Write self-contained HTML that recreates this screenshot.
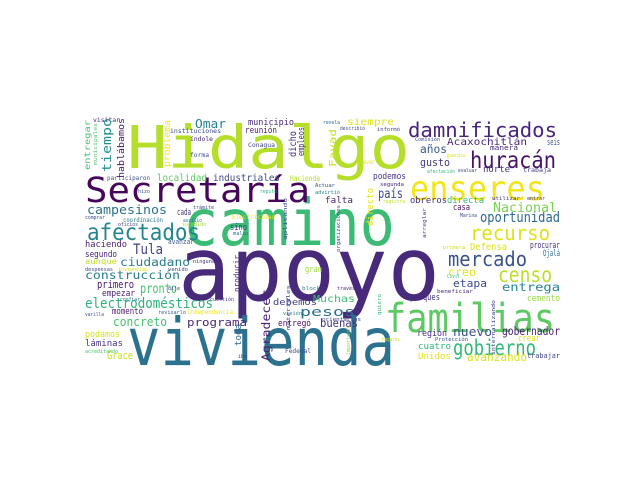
<!DOCTYPE html>
<html><head><meta charset="utf-8"><style>
html,body{margin:0;padding:0;background:#fff;width:640px;height:480px;overflow:hidden}
svg text{font-family:"DejaVu Sans Mono","Liberation Mono",monospace}
</style></head><body>
<svg id="cloud" width="640" height="480" xmlns="http://www.w3.org/2000/svg">
<rect width="640" height="480" fill="#fff"/>
</svg>
<script>
// horizontal words: text, x-start, x-end, baseline-y, font-size, color
const words = [
["apoyo",178,440,300,105,"#472a7a"],
["vivienda",127,395,365,78,"#2c728e"],
["camino",183,395,245,76,"#3bbb75"],
["Hidalgo",127,410,168,70,"#b5de2b"],
["Secretaría",85,310,202,41,"#46075a"],
["enseres",410,545,200,40,"#f1e51d"],
["familias",385,555,332,48,"#5ec962"],
["damnificados",408,557,137,24,"#482576"],
["huracán",470,556,168,28,"#471365"],
["recurso",470,550,240,24,"#dde318"],
["mercado",448,527,266,24,"#3b528b"],
["censo",498,552,282,25,"#bddf26"],
["gobierno",453,536,355,25,"#35b779"],
["afectados",87,200,240,27,"#25858e"],
["electrodomésticos",85,213,308,17,"#2db27d"],
["campesinos",87,167,214,15,"#2c728e"],
["oportunidad",480,560,222,17,"#31688e"],
["Nacional",493,557,212,16,"#7ad151"],
["Acaxochitlán",447,527,145,12,"#482677"],
["años",420,447,153,14,"#38598c"],
["gusto",420,450,166,13,"#443983"],
["país",378,403,198,16,"#3e4989"],
["construcción",85,180,279,14,"#287d8e"],
["ciudadano",120,190,266,14,"#287c8e"],
["Tula",133,163,254,17,"#404688"],
["pronto",140,177,293,16,"#4ac16d"],
["primero",97,134,288,13,"#48186a"],
["concreto",113,167,326,15,"#48c16e"],
["programa",187,247,326,13,"#482878"],
["Omar",195,226,128,15,"#26828e"],
["localidad",157,207,181,12,"#5ec962"],
["industriales",213,280,181,12,"#3e4c8a"],
["Grace",107,133,359,13,"#c8e020"],
["láminas",85,123,346,11,"#46327e"],
["podamos",85,120,337,10,"#d8e219"],
["momento",112,143,314,10,"#481a6c"],
["empezar",102,135,296,10,"#482173"],
["haciendo",85,127,247,11,"#481f70"],
["segundo",85,117,257,10,"#482475"],
["aunque",85,117,264,9,"#c0df25"],
["cada",177,191,215,11,"#46337f"],
["sino",230,247,230,11,"#443a83"],
["municipio",248,294,125,10,"#482878"],
["reunión",245,277,133,10,"#481c6e"],
["siempre",347,394,125,12,"#dfe318"],
["norte",483,510,172,10,"#472d7b"],
["podemos",373,406,179,10,"#453781"],
["falta",325,353,203,11,"#482979"],
["obreros",410,447,203,10,"#472f7d"],
["directa",447,484,203,10,"#3aba76"],
["casa",453,470,210,10,"#460b5e"],
["Defensa",470,507,250,12,"#dde318"],
["procurar",530,560,248,10,"#472c7a"],
["Ojalá",543,560,256,10,"#2d708e"],
["creo",448,476,276,14,"#e2e418"],
["etapa",453,487,287,13,"#3e4a89"],
["entrega",502,560,291,14,"#25848e"],
["parques",410,440,300,10,"#46307e"],
["cemento",527,560,301,10,"#9bd93c"],
["Muchas",313,355,302,12,"#3fbc73"],
["pesos",300,355,316,15,"#2e6f8e"],
["debemos",273,317,305,10,"#433e85"],
["entregó",278,311,326,10,"#471063"],
["buenas",320,358,327,14,"#46337e"],
["región",417,447,336,10,"#472e7c"],
["nuevo",453,492,336,15,"#3b528b"],
["gobernador",502,560,335,14,"#481d6f"],
["crear",518,540,341,10,"#dae319"],
["cuatro",418,451,349,10,"#2fb47c"],
["Unidos",418,451,359,10,"#e5e419"],
["avanzando",467,527,361,14,"#dde318"],
["trabajar",527,560,358,8,"#404588"],
["gran",305,322,272,11,"#a2da37"],
["seis",547,560,145,11,"#39568c"],
["manera",490,518,150,8,"#472a7a"],
["visitar",93,120,122,7,"#482979"],
["instituciones",170,221,133,7,"#3e4989"],
["índole",190,213,141,7,"#482475"],
["Conagua",248,275,147,7,"#414487"],
["forma",190,209,157,7,"#3d4e8a"],
["participaron",107,150,180,7,"#3b528b"],
["Hacienda",290,320,181,9,"#b8de29"],
["coordinación",123,163,222,7,"#2a778e"],
["Electricidad",232,275,219,7,"#ece51b"],
["trabaja",523,551,172,7,"#463480"],
["avanzar",168,194,244,8,"#39568c"],
["Comisión",415,440,141,6,"#3e4a89"],
["revela",323,340,124,6,"#2c728e"],
["describió",340,365,130,6,"#3e4989"],
["informó",377,400,131,6,"#433e85"],
["afectación",427,455,173,6,"#35b779"],
["evaluar",458,477,172,6,"#404688"],
["utilizar",492,520,200,6,"#443983"],
["entrar",527,545,200,6,"#453781"],
["Marina",460,477,217,6,"#3e4c8a"],
["beneficiar",437,473,293,6,"#482576"],
["Protección",435,468,341,6,"#3b528b"],
["hogares",382,400,341,6,"#d2e21b"],
["orientarlos",322,361,321,6,"#404688"],
["Federal",285,311,353,7,"#3e4c8a"],
["visión",283,302,315,6,"#2a788e"],
["Independencia",187,233,314,7,"#f1e51d"],
["cuestión",210,234,301,6,"#453882"],
["venido",168,188,271,6,"#404688"],
["ninguna",193,215,263,6,"#46317e"],
["despensas",85,113,271,6,"#3e4989"],
["instancias",118,148,271,6,"#d5e21a"],
["revisarlo",158,186,314,6,"#3b528b"],
["varilla",85,104,316,6,"#3e4c8a"],
["acreditando",85,118,353,6,"#4ac16d"],
["iba",238,247,358,6,"#414487"],
["malas",233,249,235,6,"#2c728e"],
["oficios",118,138,226,6,"#414487"],
["sucedido",182,206,226,6,"#a5db36"],
["comprar",85,105,219,6,"#3e4989"],
["auxilio",183,202,222,6,"#2c728e"],
["trámite",193,214,209,6,"#3e4989"],
["hizo",138,150,193,6,"#3b528b"],
["repito",260,277,193,6,"#29af7f"],
["dije",168,180,290,6,"#404688"],
["confiar",120,140,301,6,"#2a778e"],
["guardia",447,465,157,6,"#dde318"],
["llevar",357,375,164,7,"#e5e419"],
["segunda",380,404,186,6,"#482475"],
["registra",383,405,203,6,"#c2df23"],
["primera",443,465,249,6,"#d0e11c"],
["Civil",447,460,278,6,"#35b779"],
["través",337,355,290,6,"#481f70"],
["block",302,320,290,6,"#2a788e"],
["Actuar",315,335,187,6,"#3b528b"],
["advirtió",315,340,194,6,"#26828e"]
];
// vertical words (read bottom-to-top): text, baseline-x, y-bottom, y-top, font-size, color
const vwords = [
["tiempo",111,172,118,15,"#21918c"],
["hablábamos",124,178,118,11,"#481769"],
["entregar",90,170,120,9,"#46c06f"],
["municipales",97,165,123,6,"#52c569"],
["problema",170,167,120,11,"#f1e51d"],
["dicho",296,157,131,12,"#472c7a"],
["empleos",304,156,127,11,"#482878"],
["Fayad",336,167,129,12,"#c5e021"],
["directo",373,226,188,11,"#e7e419"],
["producir",240,292,255,11,"#472d7b"],
["Agradecer",270,361,290,14,"#482475"],
["toda",241,346,324,10,"#31688e"],
["materiales",290,330,285,6,"#414487"],
["importante",350,355,325,6,"#8fd744"],
["aplicando",287,240,198,6,"#3e4989"],
["organizaciones",340,252,205,6,"#3e4c8a"],
["internalizando",495,355,300,6,"#404688"],
["arreglar",426,238,208,6,"#404688"],
["quiero",381,315,294,6,"#35b779"]
];
const svg = document.getElementById('cloud');
const NS = 'http://www.w3.org/2000/svg';
const K = 0.84;
words.forEach(w => {
  const t = document.createElementNS(NS, 'text');
  
  
  t.setAttribute('x', w[1]);
  t.setAttribute('y', w[3]);
  t.setAttribute('font-size', w[4] * K);
  t.setAttribute('fill', w[5]);
  t.setAttribute('textLength', w[2] - w[1]);
  t.setAttribute('lengthAdjust', 'spacingAndGlyphs');
  t.textContent = w[0];
  svg.appendChild(t);
});
vwords.forEach(w => {
  const t = document.createElementNS(NS, 'text');
  
  
  t.setAttribute('transform', 'translate(' + w[1] + ',' + w[2] + ') rotate(-90)');
  t.setAttribute('font-size', w[4] * K);
  t.setAttribute('fill', w[5]);
  t.setAttribute('textLength', w[2] - w[3]);
  t.setAttribute('lengthAdjust', 'spacingAndGlyphs');
  t.textContent = w[0];
  svg.appendChild(t);
});
</script>
</body></html>
